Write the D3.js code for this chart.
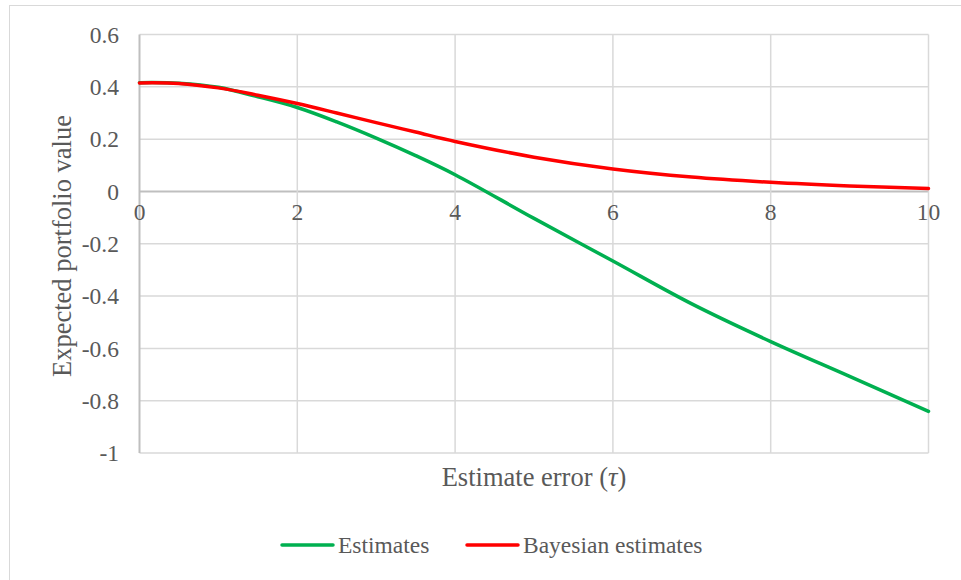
<!DOCTYPE html>
<html>
<head>
<meta charset="utf-8">
<script src="https://cdn.jsdelivr.net/npm/d3@7"></script>
<style>
  body { margin: 0; background: #fff; }
  svg text { font-family: "Liberation Serif", "Times New Roman", serif; fill: #595959; }
</style>
</head>
<body>
<div id="grafico"></div>
<script>
// datos
var tau = [0, 0.5, 1, 1.5, 2, 2.5, 3, 3.5, 4, 5, 6, 7, 8, 9, 10];
var estimates = [0.416, 0.414, 0.398, 0.362, 0.321, 0.266, 0.204, 0.137, 0.064, -0.103, -0.266, -0.43, -0.574, -0.707, -0.841];
var bayesian = [0.415, 0.413, 0.396, 0.368, 0.336, 0.300, 0.263, 0.227, 0.191, 0.131, 0.086, 0.055, 0.035, 0.021, 0.011];
var xTicks = [0, 2, 4, 6, 8, 10];
var yTicks = ["-1", "-0.8", "-0.6", "-0.4", "-0.2", "0", "0.2", "0.4", "0.6"];
var series = [
  { nombre: "Estimates", valores: estimates, color: "#00B050" },
  { nombre: "Bayesian estimates", valores: bayesian, color: "#FF0000" }
];

var width = 961, height = 580;

var svg = d3.select("#grafico").append("svg")
  .attr("width", width)
  .attr("height", height);

// borde del area del grafico
svg.append("rect")
  .attr("x", 9.5).attr("y", 5.5)
  .attr("width", 1000).attr("height", 1000)
  .attr("fill", "none")
  .attr("stroke", "#d9d9d9");

var x = d3.scaleLinear().domain([0, 10]).range([139.5, 928.5]);
var y = d3.scaleLinear().domain([-1, 0.6]).range([453, 34.5]);

// lineas de grilla horizontales
svg.append("g").selectAll("line")
  .data(yTicks)
  .enter().append("line")
  .attr("x1", x(0)).attr("x2", x(10))
  .attr("y1", function(d){ return y(+d); })
  .attr("y2", function(d){ return y(+d); })
  .attr("stroke", function(d){ return +d === 0 ? "#bfbfbf" : "#d9d9d9"; })
  .attr("stroke-width", function(d){ return +d === 0 ? 2 : 1.5; });

// lineas de grilla verticales
svg.append("g").selectAll("line")
  .data(xTicks)
  .enter().append("line")
  .attr("x1", function(d){ return x(d); })
  .attr("x2", function(d){ return x(d); })
  .attr("y1", y(0.6)).attr("y2", y(-1))
  .attr("stroke", function(d){ return d === 0 ? "#bfbfbf" : "#d9d9d9"; })
  .attr("stroke-width", function(d){ return d === 0 ? 2 : 1.5; });

// etiquetas eje y
svg.append("g").selectAll("text")
  .data(yTicks)
  .enter().append("text")
  .attr("x", 119)
  .attr("y", function(d){ return y(+d); })
  .attr("dy", "0.35em")
  .attr("text-anchor", "end")
  .style("font-size", "23.5px")
  .text(function(d){ return d; });

// etiquetas eje x (junto a la linea del cero)
svg.append("g").selectAll("text")
  .data(xTicks)
  .enter().append("text")
  .attr("x", function(d){ return x(d); })
  .attr("y", y(0) + 29)
  .attr("text-anchor", "middle")
  .style("font-size", "23.5px")
  .text(function(d){ return d; });

// titulos de los ejes
var tx = svg.append("text")
  .attr("x", 534).attr("y", 486)
  .attr("text-anchor", "middle")
  .style("font-size", "26.5px");
tx.append("tspan").text("Estimate error (");
tx.append("tspan").style("font-style", "italic").text("\u03C4");
tx.append("tspan").text(")");

svg.append("text")
  .attr("transform", "translate(71,246) rotate(-90)")
  .attr("text-anchor", "middle")
  .style("font-size", "26.5px")
  .text("Expected portfolio value");

// curvas
var linea = d3.line()
  .x(function(d, i){ return x(tau[i]); })
  .y(function(d){ return y(d); })
  .curve(d3.curveCatmullRom);

svg.append("g").selectAll("path")
  .data(series)
  .enter().append("path")
  .attr("d", function(d){ return linea(d.valores); })
  .attr("fill", "none")
  .attr("stroke", function(d){ return d.color; })
  .attr("stroke-width", 3.5)
  .attr("stroke-linecap", "round");

// leyenda
var leyenda = svg.append("g").selectAll("g")
  .data(series)
  .enter().append("g")
  .attr("transform", function(d, i){ return "translate(" + (282 + i * 185) + ",545)"; });

leyenda.append("line")
  .attr("x1", 0).attr("x2", 51)
  .attr("stroke", function(d){ return d.color; })
  .attr("stroke-width", 3.5)
  .attr("stroke-linecap", "round");

leyenda.append("text")
  .attr("x", 56)
  .attr("dy", "0.35em")
  .style("font-size", "23.5px")
  .text(function(d){ return d.nombre; });
</script>
</body>
</html>
